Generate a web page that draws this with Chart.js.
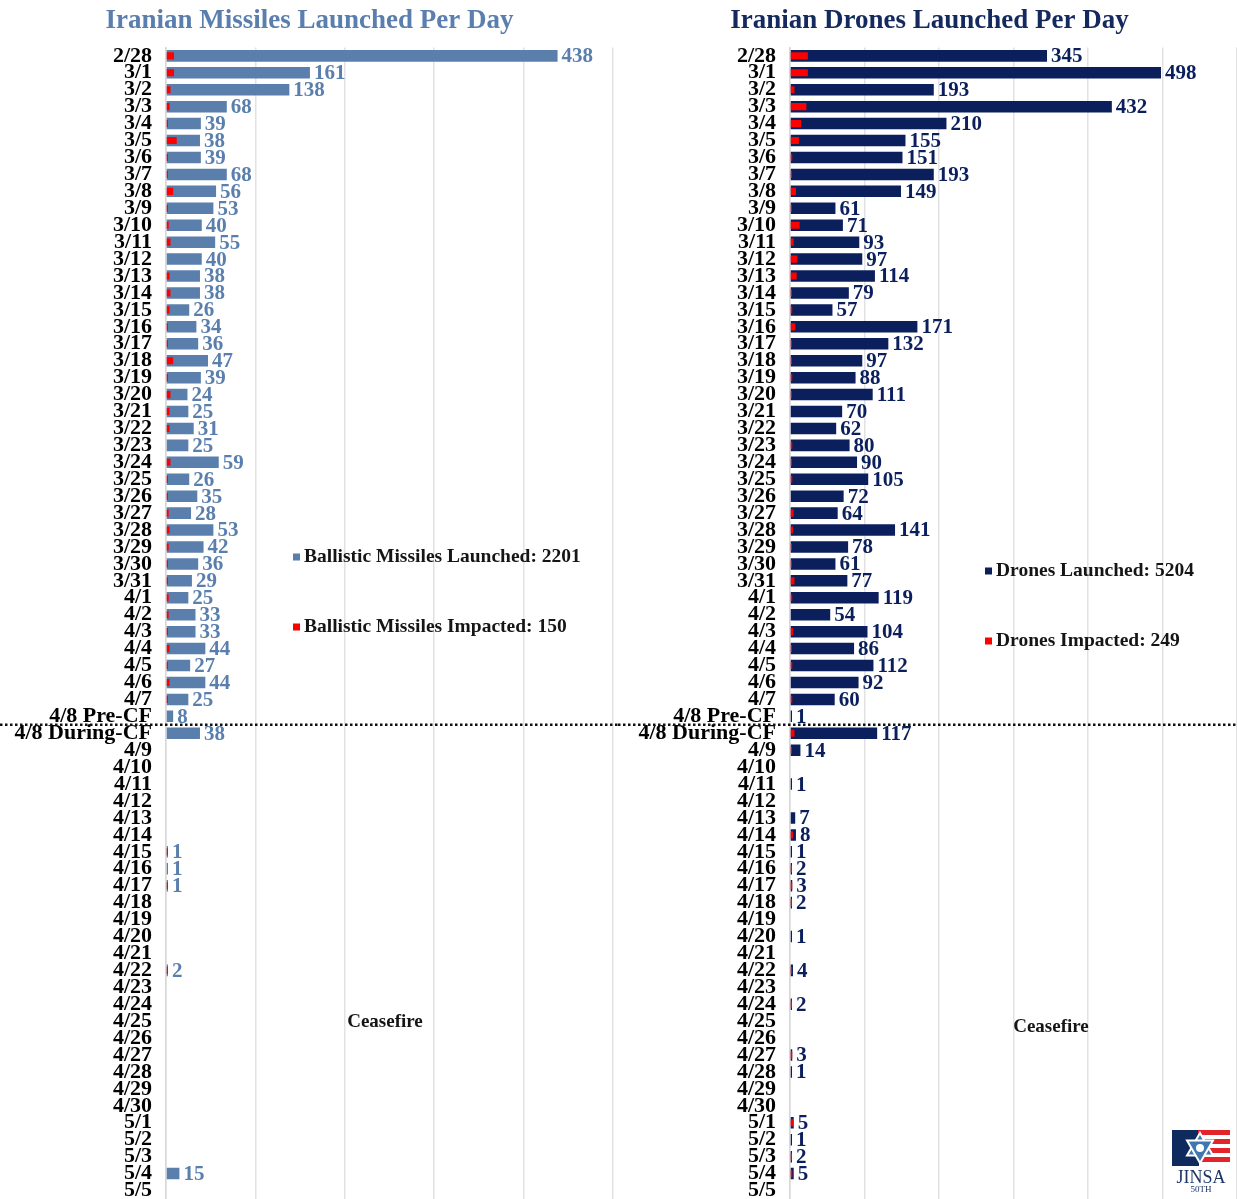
<!DOCTYPE html>
<html lang="en">
<head>
<meta charset="UTF-8">
<title>Iranian Missiles and Drones Launched Per Day</title>
<script src="https://cdn.jsdelivr.net/npm/chart.js"></script>
<style>
  html, body { margin: 0; padding: 0; background: #fff; }
  body { width: 1237px; height: 1199px; position: relative; overflow: hidden; }
  .panel { position: absolute; top: 0; height: 1199px; }
  #leftPanel { left: 0; width: 618px; }
  #rightPanel { left: 618px; width: 619px; }
</style>
</head>
<body>
<div class="panel" id="leftPanel"><canvas id="missileChart"></canvas></div>
<div class="panel" id="rightPanel"><canvas id="droneChart"></canvas></div>
<script>
// days on the y axis
const days = [
  '2/28',
  '3/1', '3/2', '3/3', '3/4', '3/5', '3/6', '3/7', '3/8', '3/9', '3/10',
  '3/11', '3/12', '3/13', '3/14', '3/15', '3/16', '3/17', '3/18', '3/19', '3/20',
  '3/21', '3/22', '3/23', '3/24', '3/25', '3/26', '3/27', '3/28', '3/29', '3/30', '3/31',
  '4/1', '4/2', '4/3', '4/4', '4/5', '4/6', '4/7', '4/8 Pre-CF', '4/8 During-CF',
  '4/9', '4/10', '4/11', '4/12', '4/13', '4/14', '4/15', '4/16', '4/17', '4/18',
  '4/19', '4/20', '4/21', '4/22', '4/23', '4/24', '4/25', '4/26', '4/27', '4/28',
  '4/29', '4/30',
  '5/1', '5/2', '5/3', '5/4', '5/5'
];

// ballistic missiles
const missilesLaunched = [
  438,
  161, 138, 68, 39, 38, 39, 68, 56, 53, 40,
  55, 40, 38, 38, 26, 34, 36, 47, 39, 24,
  25, 31, 25, 59, 26, 35, 28, 53, 42, 36, 29,
  25, 33, 33, 44, 27, 44, 25, 8, 38,
  null, null, null, null, null, null, 1, 1, 1, null,
  null, null, null, 2, null, null, null, null, null, null,
  null, null,
  null, null, null, 15, null
];
const missilesImpacted = [
  9,
  9, 5, 4, 1, 12, 2, 2, 8, 2, 3,
  5, null, 4, 5, 4, 2, 2, 8, 2, 5,
  4, 4, null, 5, 2, 2, 3, 4, 3, 1, 1,
  3, 3, 2, 4, 2, 4, 2, null, null,
  null, null, null, null, null, null, 1, null, 1, null,
  null, null, null, 2, null, null, null, null, null, null,
  null, null,
  null, null, null, null, null
];

// drones
const dronesLaunched = [
  345,
  498, 193, 432, 210, 155, 151, 193, 149, 61, 71,
  93, 97, 114, 79, 57, 171, 132, 97, 88, 111,
  70, 62, 80, 90, 105, 72, 64, 141, 78, 61, 77,
  119, 54, 104, 86, 112, 92, 60, 1, 117,
  14, null, 1, null, 7, 8, 1, 2, 3, 2,
  null, 1, null, 4, null, 2, null, null, 3, 1,
  null, null,
  5, 1, 2, 5, null
];
const dronesImpacted = [
  24,
  24, 6, 22, 15, 12, 3, 1, 8, 2, 13,
  5, 10, 9, 2, 3, 7, 2, 2, 3, 2,
  null, null, 3, 2, 3, null, 5, 4, 1, 1, 6,
  3, null, 4, 1, 3, null, 3, null, 6,
  2, null, null, null, null, 4, null, 2, 3, 2,
  null, null, null, 2, null, 2, null, null, 3, null,
  null, null,
  4, null, 2, 3, null
];

const missileTotals = { launched: 2201, impacted: 150 };
const droneTotals = { launched: 5204, impacted: 249 };

const SERIF = '"Liberation Serif", "DejaVu Serif", serif';
const RED = '#ff0000';

// numbers at the end of the launched bars
const valueLabels = {
  id: 'valueLabels',
  afterDatasetsDraw(chart) {
    const ds = chart.data.datasets[0];
    const meta = chart.getDatasetMeta(0);
    const ctx = chart.ctx;
    ctx.save();
    ctx.font = 'bold 21px ' + SERIF;
    ctx.fillStyle = ds.labelColor;
    ctx.textAlign = 'left';
    ctx.textBaseline = 'middle';
    meta.data.forEach((bar, i) => {
      const v = ds.data[i];
      if (v == null) return;
      ctx.fillText(String(v), bar.x + 4, bar.y + 1);
    });
    ctx.restore();
  }
};

// dotted ceasefire divider, legend notes, ceasefire word
const notes = {
  id: 'notes',
  afterDraw(chart, args, o) {
    const ctx = chart.ctx;
    const y = chart.scales.y;
    const yLine = (y.getPixelForValue(39) + y.getPixelForValue(40)) / 2;
    ctx.save();
    ctx.strokeStyle = '#111';
    ctx.lineWidth = 2.5;
    ctx.setLineDash([2.5, 2.5]);
    ctx.beginPath();
    ctx.moveTo(0, yLine);
    ctx.lineTo(chart.width, yLine);
    ctx.stroke();
    ctx.setLineDash([]);

    ctx.font = 'bold 19.5px ' + SERIF;
    ctx.textBaseline = 'middle';
    ctx.textAlign = 'left';
    o.legend.forEach(item => {
      ctx.fillStyle = item.color;
      ctx.fillRect(item.x, item.y - 3.5, 7, 7);
      ctx.fillStyle = '#151515';
      ctx.fillText(item.text, item.x + 11, item.y);
    });

    ctx.font = 'bold 19px ' + SERIF;
    ctx.textAlign = 'center';
    ctx.fillStyle = '#151515';
    ctx.fillText('Ceasefire', o.ceasefire.x, o.ceasefire.y);
    ctx.restore();
  }
};

// small JINSA mark in the corner
const logo = {
  id: 'logo',
  afterDraw(chart, args, o) {
    if (!o.show) return;
    const ctx = chart.ctx;
    const x0 = chart.width - 65, y0 = chart.height - 71;
    ctx.save();
    ctx.fillStyle = '#0f2a5c';
    ctx.fillRect(x0, y0 + 2, 27, 36);
    ctx.fillStyle = '#e3242b';
    for (let k = 0; k < 4; k++) ctx.fillRect(x0 + 26, y0 + 2 + k * 9, 32, 5);
    const cx = x0 + 28, cy = y0 + 20, r = 15;
    [0, Math.PI].forEach(rot => {
      ctx.beginPath();
      for (let k = 0; k < 3; k++) {
        const a = rot - Math.PI / 2 + k * 2 * Math.PI / 3;
        const px = cx + r * Math.cos(a), py = cy + r * Math.sin(a);
        if (k === 0) ctx.moveTo(px, py); else ctx.lineTo(px, py);
      }
      ctx.closePath();
      ctx.fillStyle = '#3f78b0';
      ctx.fill();
      ctx.strokeStyle = '#fff';
      ctx.lineWidth = 2;
      ctx.stroke();
    });
    ctx.fillStyle = '#fff';
    ctx.beginPath();
    ctx.arc(cx, cy, 4, 0, Math.PI * 2);
    ctx.fill();
    ctx.fillStyle = '#1d3566';
    ctx.textAlign = 'center';
    ctx.textBaseline = 'middle';
    ctx.font = '18px ' + SERIF;
    ctx.fillText('JINSA', x0 + 29, y0 + 50);
    ctx.font = '9px ' + SERIF;
    ctx.fillText('50TH', x0 + 29, y0 + 62);
    ctx.restore();
  }
};

function makeChart(id, cfg) {
  const ctx = document.getElementById(id).getContext('2d');
  return new Chart(ctx, {
    type: 'bar',
    data: {
      labels: days,
      datasets: [
        {
          label: cfg.launchedLabel,
          data: cfg.launched,
          backgroundColor: cfg.color,
          borderWidth: 0,
          minBarLength: 2,
          barPercentage: 0.68,
          categoryPercentage: 1,
          labelColor: cfg.color,
          order: 2
        },
        {
          label: cfg.impactedLabel,
          data: cfg.impacted,
          backgroundColor: RED,
          borderWidth: 0,
          minBarLength: 2,
          barPercentage: 0.42,
          categoryPercentage: 1,
          order: 1
        }
      ]
    },
    options: {
      indexAxis: 'y',
      responsive: true,
      maintainAspectRatio: false,
      animation: false,
      grouped: false,
      layout: { padding: { top: 0, right: cfg.padRight, bottom: 0, left: cfg.padLeft } },
      scales: {
        x: {
          min: 0,
          max: cfg.max,
          ticks: { display: false, stepSize: 100 },
          grid: { color: '#e2e2e2', lineWidth: 1.5, drawTicks: false },
          border: { display: false },
          afterFit(scale) {
            scale.height = 0;
            scale.paddingLeft = 0;
            scale.paddingRight = 0;
          }
        },
        y: {
          ticks: {
            autoSkip: false,
            color: '#000',
            padding: 14,
            font: { family: SERIF, size: 22, weight: 'bold' }
          },
          grid: { display: false, drawTicks: false },
          border: { color: '#d8d8d8', width: 1.5 },
          afterFit(scale) {
            scale.width = cfg.axisWidth;
            scale.paddingTop = 0;
            scale.paddingBottom = 0;
          }
        }
      },
      plugins: {
        legend: { display: false },
        tooltip: { enabled: false },
        title: {
          display: true,
          text: cfg.title,
          color: cfg.titleColor,
          font: { family: SERIF, size: 27, weight: 'bold' },
          padding: { top: 5, bottom: 10 }
        },
        notes: {
          legend: cfg.legend,
          ceasefire: cfg.ceasefire
        },
        logo: { show: cfg.logo }
      }
    },
    plugins: [valueLabels, notes, logo]
  });
}

makeChart('missileChart', {
  title: 'Iranian Missiles Launched Per Day',
  titleColor: '#5a7fae',
  launchedLabel: 'Ballistic Missiles Launched',
  impactedLabel: 'Ballistic Missiles Impacted',
  launched: missilesLaunched,
  impacted: missilesImpacted,
  color: '#5a7fad',
  max: 500,
  axisWidth: 160,
  padLeft: 6,
  padRight: 5,
  legend: [
    { color: '#5a7fad', x: 293, y: 557, text: 'Ballistic Missiles Launched: ' + missileTotals.launched },
    { color: RED, x: 293, y: 627, text: 'Ballistic Missiles Impacted: ' + missileTotals.impacted }
  ],
  ceasefire: { x: 385, y: 1022 },
  logo: false
});

makeChart('droneChart', {
  title: 'Iranian Drones Launched Per Day',
  titleColor: '#14295d',
  launchedLabel: 'Drones Launched',
  impactedLabel: 'Drones Impacted',
  launched: dronesLaunched,
  impacted: dronesImpacted,
  color: '#0b1f5c',
  max: 600,
  axisWidth: 168,
  padLeft: 4,
  padRight: 0,
  legend: [
    { color: '#0b1f5c', x: 367, y: 571, text: 'Drones Launched: ' + droneTotals.launched },
    { color: RED, x: 367, y: 641, text: 'Drones Impacted: ' + droneTotals.impacted }
  ],
  ceasefire: { x: 433, y: 1027 },
  logo: true
});
</script>
</body>
</html>
